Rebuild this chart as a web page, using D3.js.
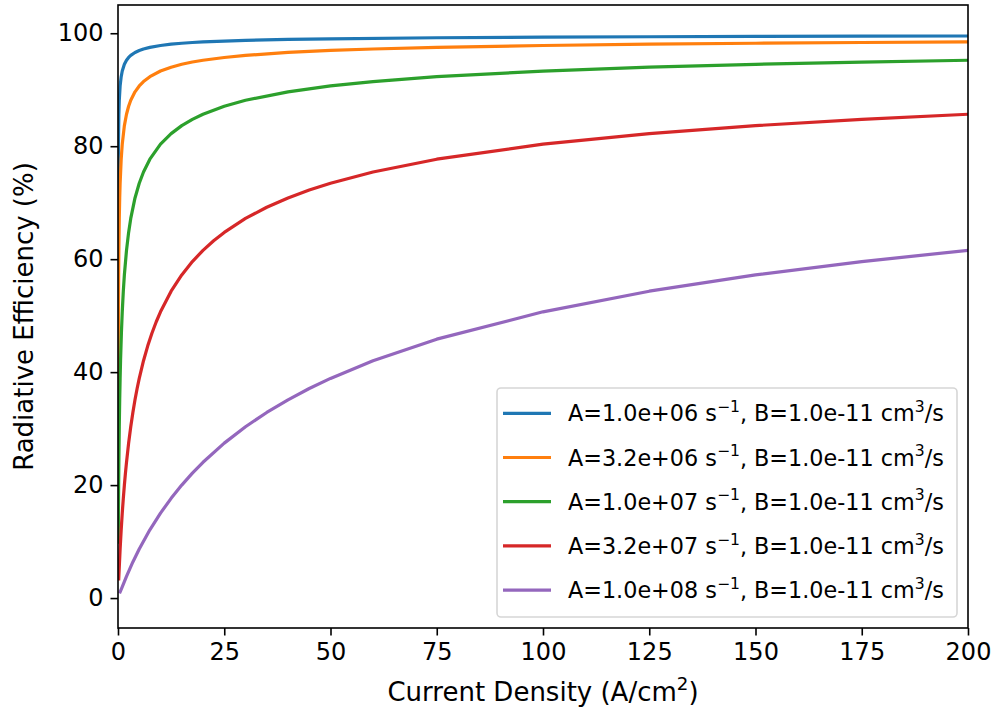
<!DOCTYPE html>
<html>
<head>
<meta charset="utf-8">
<script src="https://cdn.jsdelivr.net/npm/d3@7"></script>
<style>
  html, body { margin: 0; padding: 0; background: #fff; }
  text { font-family: "DejaVu Sans", sans-serif; fill: #000; }
</style>
</head>
<body>
<svg id="chart" width="996" height="719"></svg>
<script>
// ---------------- data ----------------
const xTicks = [0, 25, 50, 75, 100, 125, 150, 175, 200];
const yTicks = [0, 20, 40, 60, 80, 100];

const seriesA = ["1.0e+06", "3.2e+06", "1.0e+07", "3.2e+07", "1.0e+08"];
const seriesB = ["1.0e-11", "1.0e-11", "1.0e-11", "1.0e-11", "1.0e-11"];
const colors = ["#1f77b4", "#ff7f0e", "#2ca02c", "#d62728", "#9467bd"];

const jBlue = [0.011, 0.02, 0.05, 0.1, 0.2, 0.3, 0.5, 0.75, 1, 1.5, 2, 2.5, 3, 4, 5, 6, 7.5, 10, 12.5, 15, 17.5, 20, 30, 40, 50, 75, 100, 125, 150, 175, 200];
const effBlue = [52.4, 61.56, 73.45, 80.36, 85.66, 88.13, 90.67, 92.31, 93.31, 94.50, 95.22, 95.71, 96.08, 96.60, 96.95, 97.21, 97.50, 97.83, 98.06, 98.23, 98.36, 98.46, 98.74, 98.91, 99.02, 99.20, 99.31, 99.38, 99.44, 99.48, 99.51];

const jOrange = [0.023, 0.03, 0.05, 0.075, 0.1, 0.15, 0.2, 0.3, 0.4, 0.5, 0.75, 1, 1.5, 2, 2.5, 3, 4, 5, 6, 7.5, 10, 12.5, 15, 17.5, 20, 25, 30, 40, 50, 60, 75, 100, 125, 150, 175, 200];
const effOrange = [25.9, 30.33, 38.89, 45.84, 50.68, 57.21, 61.56, 67.21, 70.84, 73.45, 77.70, 80.36, 83.64, 85.66, 87.07, 88.13, 89.63, 90.67, 91.45, 92.31, 93.31, 93.99, 94.50, 94.90, 95.22, 95.71, 96.08, 96.60, 96.95, 97.21, 97.50, 97.83, 98.06, 98.23, 98.36, 98.46];

const jGreen = [0.06, 0.1, 0.15, 0.2, 0.3, 0.4, 0.5, 0.6, 0.8, 1, 1.25, 1.5, 2, 2.5, 3, 4, 5, 6, 7.5, 10, 12.5, 15, 17.5, 20, 25, 30, 40, 50, 60, 75, 100, 125, 150, 175, 200];
const effGreen = [9.9, 15.04, 20.0, 24.04, 30.33, 35.10, 38.89, 42.02, 46.93, 50.68, 54.33, 57.21, 61.56, 64.74, 67.21, 70.84, 73.45, 75.43, 77.70, 80.36, 82.23, 83.64, 84.75, 85.66, 87.07, 88.13, 89.63, 90.67, 91.45, 92.31, 93.31, 93.99, 94.50, 94.90, 95.22];

const jRed = [0.17, 0.25, 0.5, 0.75, 1, 1.25, 1.5, 1.75, 2, 2.5, 3, 3.5, 4, 4.5, 5, 6, 7, 8, 9, 10, 12.5, 15, 17.5, 20, 22.5, 25, 30, 35, 40, 45, 50, 60, 75, 100, 125, 150, 175, 200];
const effRed = [3.4, 4.73, 8.68, 12.08, 15.04, 17.66, 20.0, 22.11, 24.04, 27.43, 30.33, 32.86, 35.10, 37.10, 38.89, 42.02, 44.66, 46.93, 48.92, 50.68, 54.33, 57.21, 59.58, 61.56, 63.26, 64.74, 67.21, 69.19, 70.84, 72.24, 73.45, 75.43, 77.70, 80.36, 82.23, 83.64, 84.75, 85.66];

const jPurple = [0.5, 1, 2, 3.5, 5, 7.5, 10, 12.5, 15, 17.5, 20, 25, 30, 35, 40, 45, 50, 60, 75, 100, 125, 150, 175, 200];
const effPurple = [1.1, 2.0, 3.85, 6.39, 8.68, 12.08, 15.04, 17.66, 20.0, 22.11, 24.04, 27.43, 30.33, 32.86, 35.10, 37.10, 38.89, 42.02, 45.84, 50.68, 54.33, 57.21, 59.58, 61.56];

const jSets = [jBlue, jOrange, jGreen, jRed, jPurple];
const effSets = [effBlue, effOrange, effGreen, effRed, effPurple];

// ---------------- layout ----------------
const svg = d3.select("#chart");
const L = 118, R = 968, T = 5, B = 628;
const tickFont = 24, labelFont = 26, legendFont = 22.3;

const x = d3.scaleLinear().domain([0, 200]).range([L, R]);
const y = d3.scaleLinear().domain([-5.3, 105]).range([B, T]);

svg.append("rect").attr("width", 996).attr("height", 719).attr("fill", "#fff");

svg.append("defs").append("clipPath").attr("id", "plotclip")
  .append("rect").attr("x", L).attr("y", T).attr("width", R - L).attr("height", B - T);

const line = d3.line().x(d => x(d[0])).y(d => y(d[1]));

const plot = svg.append("g").attr("clip-path", "url(#plotclip)");
jSets.forEach((js, i) => {
  const pts = js.map((j, k) => [j, effSets[i][k]]);
  plot.append("path")
    .attr("d", line(pts))
    .attr("fill", "none")
    .attr("stroke", colors[i])
    .attr("stroke-width", 3.2)
    .attr("stroke-linejoin", "round")
    .attr("stroke-linecap", "square");
});

// axes
const xAxis = d3.axisBottom(x).tickValues(xTicks).tickSize(7.5).tickPadding(7).tickFormat(d3.format("d"));
const yAxis = d3.axisLeft(y).tickValues(yTicks).tickSize(7.5).tickPadding(7).tickFormat(d3.format("d"));

const gx = svg.append("g").attr("transform", `translate(0,${B})`).call(xAxis);
const gy = svg.append("g").attr("transform", `translate(${L},0)`).call(yAxis);
[gx, gy].forEach(g => {
  g.select(".domain").remove();
  g.selectAll(".tick line").attr("stroke", "#000").attr("stroke-width", 1.6);
  g.selectAll(".tick text").attr("font-size", tickFont).attr("font-family", "DejaVu Sans").attr("fill", "#000");
});

// spines
svg.append("rect").attr("x", L).attr("y", T).attr("width", R - L).attr("height", B - T)
  .attr("fill", "none").attr("stroke", "#000").attr("stroke-width", 1.6);

// axis labels
const xl = svg.append("text").attr("x", (L + R) / 2).attr("y", 701)
  .attr("text-anchor", "middle").attr("font-size", labelFont);
xl.append("tspan").text("Current Density (A/cm");
xl.append("tspan").attr("font-size", labelFont * 0.7).attr("dy", -labelFont * 0.42).text("2");
xl.append("tspan").attr("dy", labelFont * 0.42).text(")");

svg.append("text")
  .attr("transform", `translate(33,${(T + B) / 2}) rotate(-90)`)
  .attr("text-anchor", "middle").attr("font-size", labelFont)
  .text("Radiative Efficiency (%)");

// legend
const lg = svg.append("g");
lg.append("rect").attr("x", 497).attr("y", 388).attr("width", 460).attr("height", 229)
  .attr("rx", 4).attr("ry", 4)
  .attr("fill", "#fff").attr("fill-opacity", 0.8)
  .attr("stroke", "#d6d6d6").attr("stroke-width", 1.6);
const rowY0 = 413.3, rowStep = 44.2;
seriesA.forEach((a, i) => {
  const ry = rowY0 + i * rowStep;
  lg.append("line").attr("x1", 503).attr("x2", 551).attr("y1", ry).attr("y2", ry)
    .attr("stroke", colors[i]).attr("stroke-width", 3.2);
  const t = lg.append("text").attr("x", 568).attr("y", ry + 8).attr("font-size", legendFont);
  t.append("tspan").text(`A=${a} s`);
  t.append("tspan").attr("font-size", legendFont * 0.7).attr("dy", -legendFont * 0.42).text("\u22121");
  t.append("tspan").attr("dy", legendFont * 0.42).text(`, B=${seriesB[i]} cm`);
  t.append("tspan").attr("font-size", legendFont * 0.7).attr("dy", -legendFont * 0.42).text("3");
  t.append("tspan").attr("dy", legendFont * 0.42).text("/s");
});
</script>
</body>
</html>
